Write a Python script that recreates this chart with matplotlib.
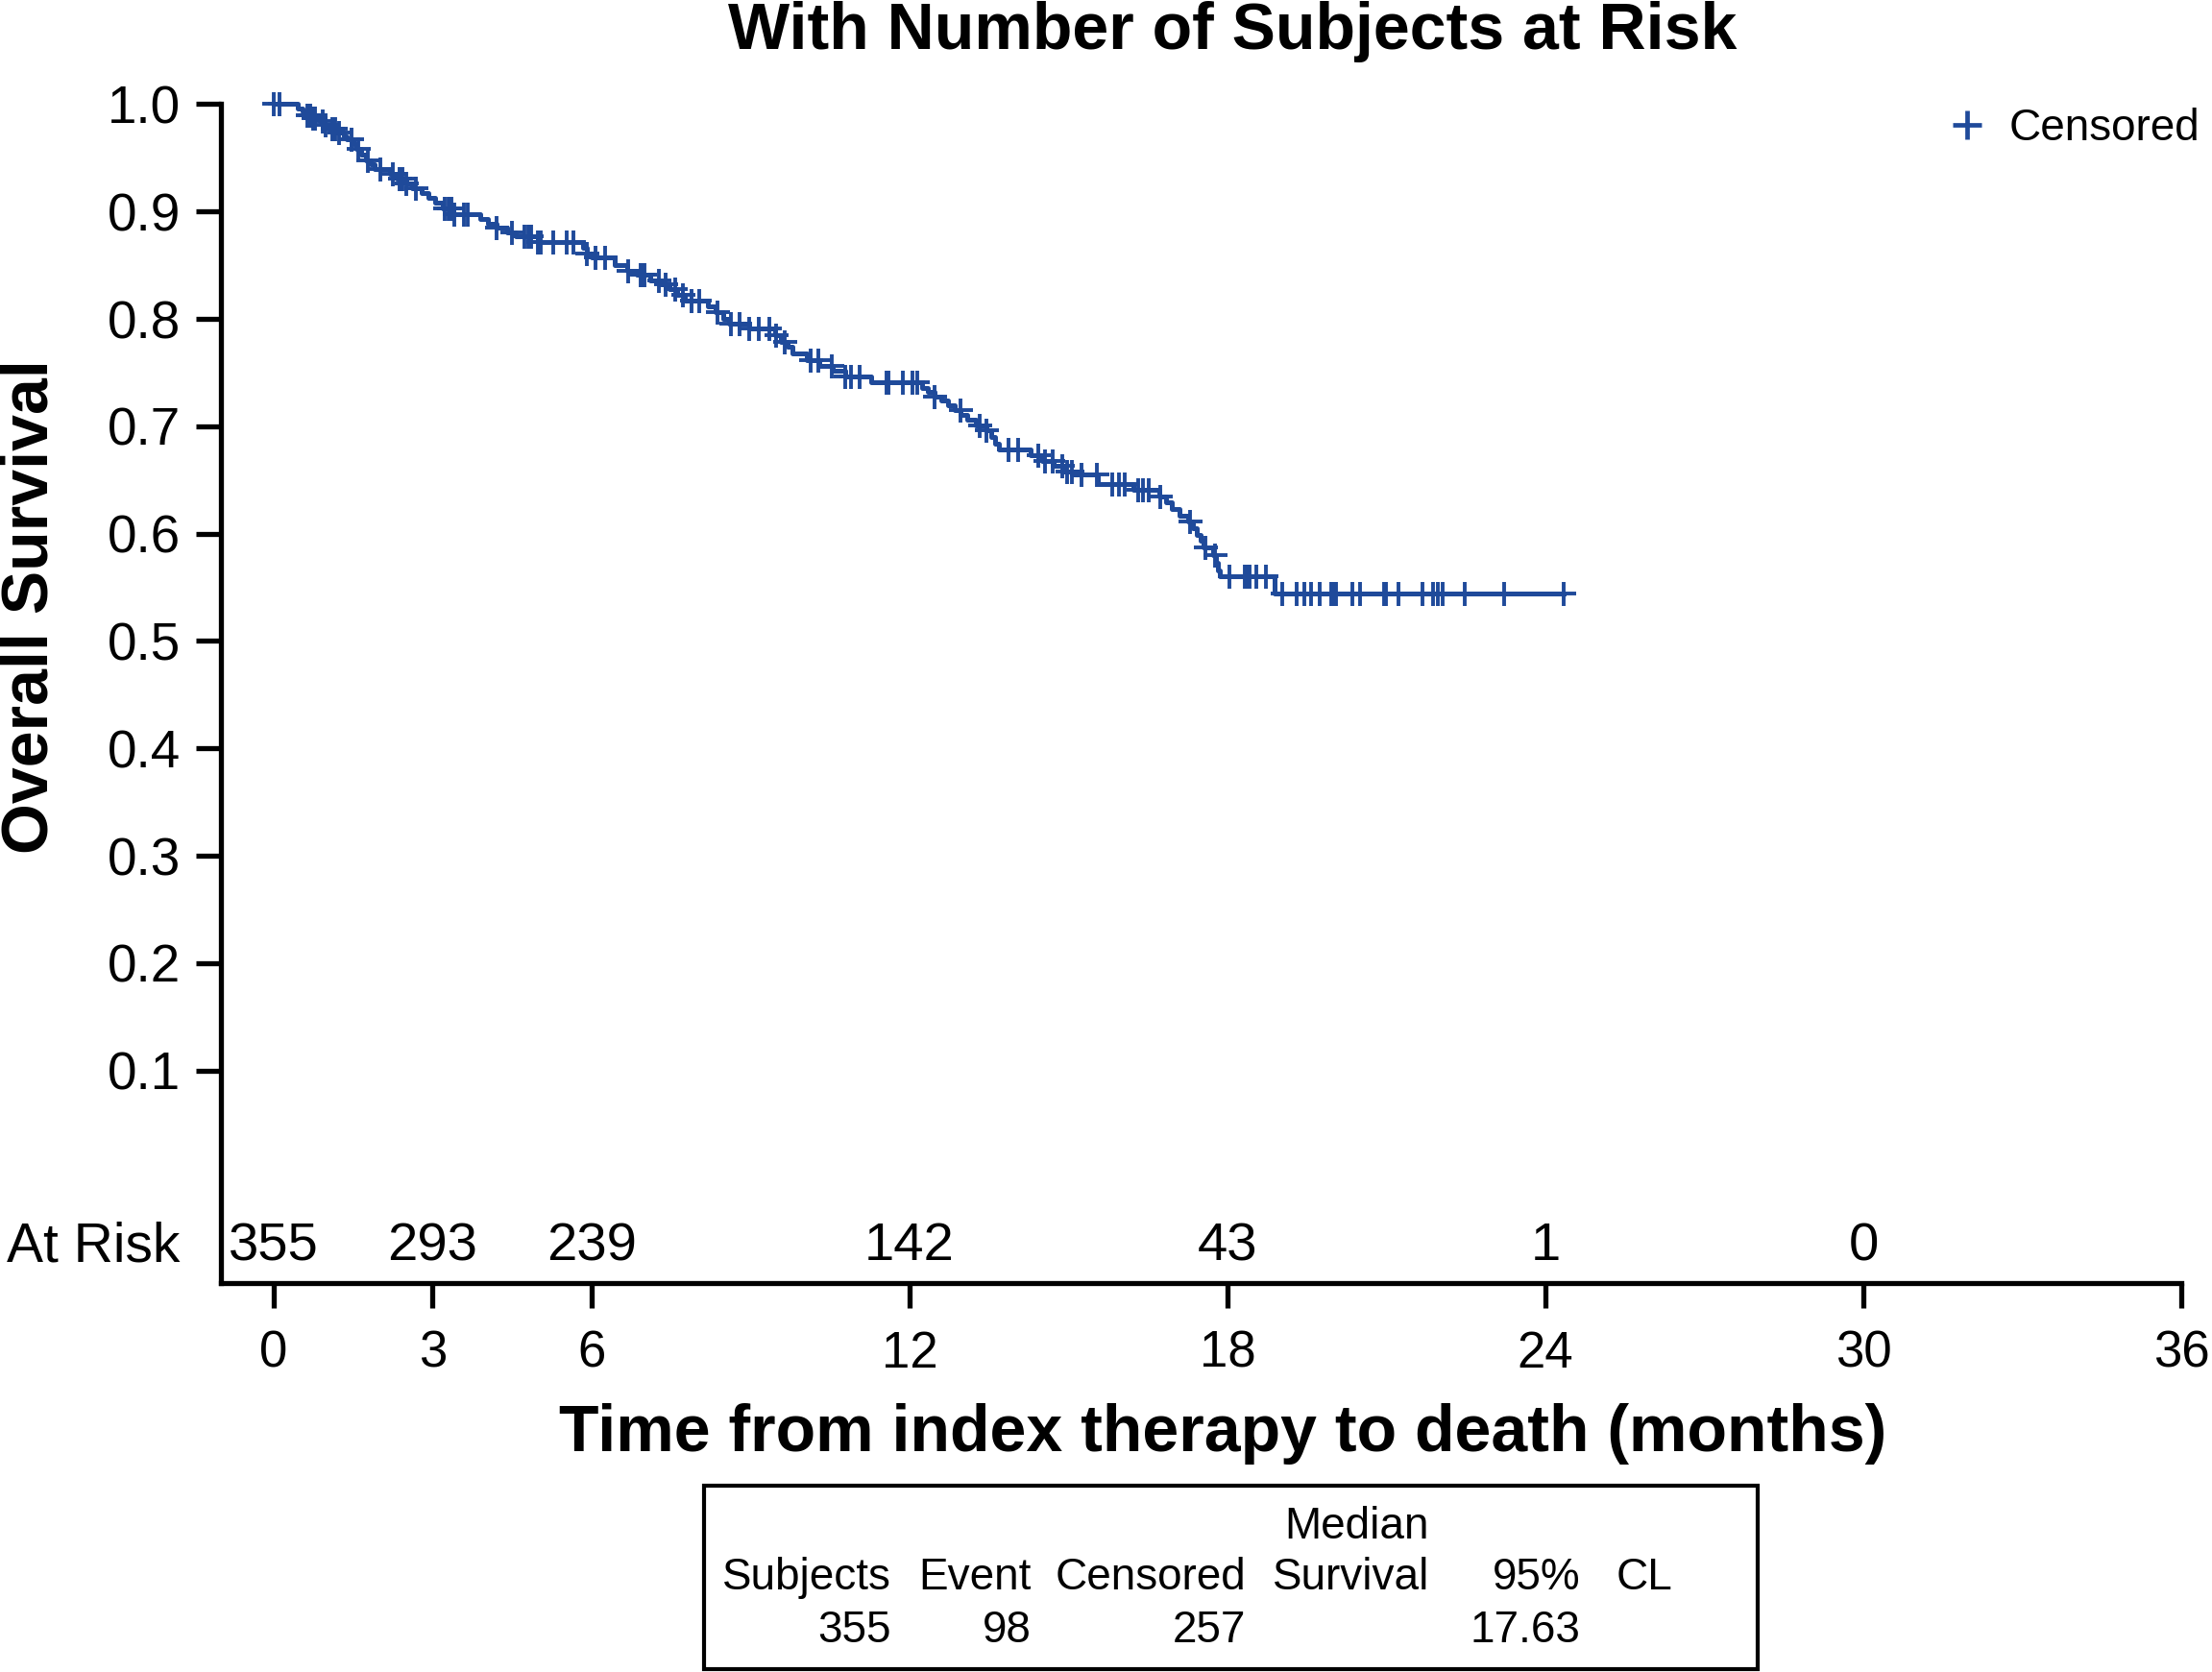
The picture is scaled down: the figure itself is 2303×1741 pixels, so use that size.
"""
Curva de Kaplan-Meier — supervivencia global con número de sujetos en riesgo.
"""

import numpy as np
import matplotlib
matplotlib.use("Agg")
import matplotlib.pyplot as plt
from matplotlib.lines import Line2D
from matplotlib.patches import Rectangle

plt.rcParams["font.family"] = ["Liberation Sans", "DejaVu Sans"]


# ── Datos ────────────────────────────────────────────────────────────────────

# tiempos (meses) de cada escalón y supervivencia tras el escalón
event_times = [0.45, 0.55, 0.63, 0.72, 0.87, 0.96, 1.05, 1.18, 1.33, 1.39,
               1.50, 1.57, 1.66, 1.75, 1.83, 1.90, 2.20, 2.32, 2.50, 2.62,
               2.80, 2.92, 3.05, 3.20, 3.40, 3.90, 4.05, 4.20, 4.40, 4.57,
               4.98, 5.84, 5.92, 6.00, 6.43, 6.67, 6.85, 7.10, 7.30, 7.47,
               7.62, 7.76, 8.19, 8.35, 8.48, 8.60, 8.97, 9.46, 9.58, 9.70,
               9.80, 10.06, 10.30, 10.55, 10.78, 11.27, 12.23, 12.35, 12.47, 12.60,
               12.72, 12.85, 12.97, 13.09, 13.25, 13.45, 13.55, 13.62, 13.68, 14.28,
               14.50, 14.72, 14.90, 15.08, 15.55, 16.22, 16.71, 16.85, 16.95, 17.10,
               17.26, 17.35, 17.43, 17.50, 17.55, 17.73, 17.78, 17.82, 17.85, 18.89]
event_surv = [0.996, 0.993, 0.990, 0.987, 0.984, 0.981, 0.977, 0.974, 0.970, 0.967,
              0.963, 0.958, 0.953, 0.948, 0.944, 0.940, 0.935, 0.931, 0.926, 0.922,
              0.917, 0.913, 0.908, 0.903, 0.898, 0.893, 0.889, 0.885, 0.881, 0.877,
              0.872, 0.866, 0.861, 0.857, 0.850, 0.845, 0.841, 0.836, 0.832, 0.828,
              0.822, 0.817, 0.812, 0.806, 0.800, 0.796, 0.791, 0.785, 0.779, 0.774,
              0.768, 0.762, 0.756, 0.752, 0.746, 0.741, 0.736, 0.732, 0.728, 0.724,
              0.720, 0.715, 0.711, 0.706, 0.701, 0.696, 0.690, 0.684, 0.678, 0.673,
              0.668, 0.663, 0.658, 0.655, 0.646, 0.641, 0.635, 0.629, 0.623, 0.617,
              0.611, 0.605, 0.599, 0.593, 0.587, 0.580, 0.573, 0.566, 0.560, 0.544]

# tiempos de censura (marcas "+")
censor_times = [0.00, 0.12, 0.63, 0.69, 0.74, 0.78, 0.93, 0.99, 1.11, 1.17,
                1.24, 1.48, 1.60, 1.78, 2.02, 2.26, 2.38, 2.44, 2.50, 2.69,
                3.23, 3.30, 3.36, 3.41, 3.60, 3.66, 4.20, 4.50, 4.74, 4.80,
                4.86, 4.98, 5.04, 5.28, 5.53, 5.65, 5.92, 6.07, 6.25, 6.70,
                6.92, 6.96, 7.00, 7.28, 7.40, 7.58, 7.73, 7.88, 8.03, 8.37,
                8.64, 8.79, 8.97, 9.15, 9.36, 9.48, 9.64, 10.13, 10.28, 10.54,
                10.78, 10.90, 11.06, 11.57, 11.60, 11.87, 12.05, 12.14, 12.47, 12.96,
                13.32, 13.45, 13.87, 14.05, 14.44, 14.56, 14.71, 14.89, 14.98, 15.07,
                15.25, 15.53, 15.83, 15.95, 16.07, 16.31, 16.40, 16.52, 16.73, 17.30,
                17.58, 17.76, 18.03, 18.33, 18.38, 18.42, 18.55, 18.73, 19.03, 19.30,
                19.45, 19.57, 19.75, 19.96, 20.00, 20.05, 20.35, 20.50, 20.95, 20.99,
                21.22, 21.69, 21.88, 21.97, 22.06, 22.48, 23.22, 24.34]

risk_times  = [0, 3, 6, 12, 18, 24, 30]
risk_counts = [355, 293, 239, 142, 43, 1, 0]

x_ticks = [0, 3, 6, 12, 18, 24, 30, 36]
y_ticks = [0.1, 0.2, 0.3, 0.4, 0.5, 0.6, 0.7, 0.8, 0.9, 1.0]

# tabla resumen bajo la gráfica
table_top     = ["", "", "", "Median", ""]
table_headers = ["Subjects", "Event", "Censored", "Survival", "95%"]
table_values  = ["355", "98", "257", "", "17.63"]

TITLE  = "With Number of Subjects at Risk"
XLABEL = "Time from index therapy to death (months)"
YLABEL = "Overall Survival"

BLUE = "#1f4a9a"


# ── Figura ───────────────────────────────────────────────────────────────────

fig = plt.figure(figsize=(23.03, 17.41), dpi=100)
ax = fig.add_axes([0.0997, 0.2326, 0.8864, 0.7051])

# curva escalonada
t_all = [0.0] + event_times + [censor_times[-1]]
s_all = [1.0] + event_surv + [event_surv[-1]]
ax.step(t_all, s_all, where="post", color=BLUE, linewidth=3.6,
        clip_on=False, zorder=3)

# marcas de censura sobre la curva
idx = np.searchsorted(event_times, censor_times, side="right")
s_c = np.r_[1.0, event_surv][idx]
ax.plot(censor_times, s_c, ls="none", marker="+", markersize=18,
        markeredgewidth=2.8, color=BLUE, clip_on=False, zorder=4)

# ejes
ax.set_xlim(-1.0, 36)
ax.set_ylim(-0.098, 1.0)
ax.set_xticks(x_ticks)
ax.set_yticks(y_ticks)
ax.set_yticklabels([f"{v:.1f}" for v in y_ticks])
for side in ("top", "right"):
    ax.spines[side].set_visible(False)
for side in ("left", "bottom"):
    ax.spines[side].set_linewidth(3.8)
    ax.spines[side].set_capstyle("projecting")
ax.tick_params(axis="both", labelsize=38, length=19, width=3.8)
ax.tick_params(axis="y", pad=11, labelsize=39.5)
ax.tick_params(axis="x", pad=16)

# fila de sujetos en riesgo
for t, n in zip(risk_times, risk_counts):
    ax.text(t, -0.064, str(n), ha="center", va="center", fontsize=40.5)
ax.text(-1.77, -0.064, "At Risk", ha="right", va="center", fontsize=41)

# leyenda
h = Line2D([], [], ls="none", marker="+", markersize=22,
           markeredgewidth=3.4, color=BLUE)
ax.legend(handles=[h], labels=["Censored"], loc="center left",
          bbox_to_anchor=(0.8793, 0.923), bbox_transform=fig.transFigure,
          frameon=False, fontsize=33, handlelength=1.0, handletextpad=0.45,
          borderpad=0, borderaxespad=0)

# títulos
fig.text(0.5571, 0.9705, TITLE, ha="center", va="baseline",
         fontsize=49, fontweight="bold")
fig.text(0.553, 0.132, XLABEL, ha="center", va="baseline",
         fontsize=49, fontweight="bold")
fig.text(0.0, 0.637, YLABEL, ha="left", va="center", rotation=90,
         fontsize=49, fontweight="bold")

# tabla resumen
fig.patches.append(Rectangle((0.3183, 0.0017), 0.4761, 0.1099,
                             transform=fig.transFigure, fill=False,
                             edgecolor="black", linewidth=3.0))
col_right = [0.4030, 0.4662, 0.5634, 0.6462, 0.7144]
for x, top, head, val in zip(col_right, table_top, table_headers, table_values):
    fig.text(x, 0.080, top, ha="right", va="baseline", fontsize=33)
    fig.text(x, 0.0494, head, ha="right", va="baseline", fontsize=33)
    fig.text(x, 0.0178, val, ha="right", va="baseline", fontsize=33)
fig.text(0.7307, 0.0494, "CL", ha="left", va="baseline", fontsize=33)

fig.savefig("out.png", dpi=100)
